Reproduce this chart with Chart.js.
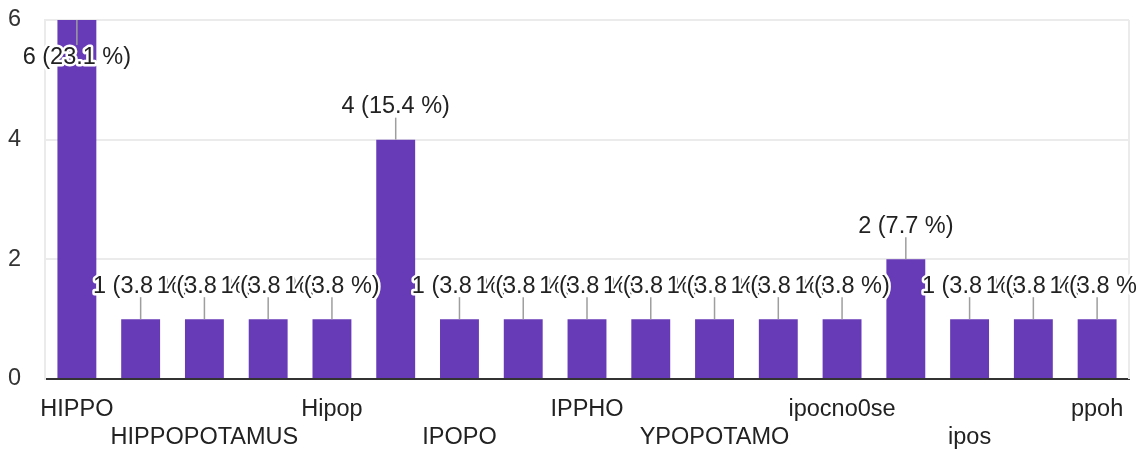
<!DOCTYPE html>
<html>
<head>
  <meta charset="UTF-8">
  <title>Responses</title>
  <script src="https://cdn.jsdelivr.net/npm/chart.js@4"></script>
  <style>
    html, body {
      margin: 0;
      padding: 0;
      background: #fff;
    }
    #wrap {
      width: 1136px;
      height: 452px;
    }
  </style>
</head>
<body>
<div id="wrap"><canvas id="chart"></canvas></div>

<script>
  // answers (odd ones are not labelled in the picture)
  const categories = ['HIPPO', 'HIPPOPO', 'HIPPOPOTAMUS', 'HIPPOS', 'Hipop', 'Hipopotamo',
    'IPOPO', 'IPOPOTAMO', 'IPPHO', 'IPPO', 'YPOPOTAMO', 'hipopotamo', 'ipocno0se',
    'ipopo', 'ipos', 'ippo', 'ppoh'];
  const counts = [6, 1, 1, 1, 1, 4, 1, 1, 1, 1, 1, 1, 1, 2, 1, 1, 1];
  const yTicks = [0, 2, 4, 6];

  const total = counts.reduce((a, b) => a + b, 0);
  const FONT = '"Liberation Sans", Arial, sans-serif';
  const SIZE = 23.5;

  // value labels with leader line and white halo
  const valueLabels = {
    id: 'valueLabels',
    afterDatasetsDraw(chart) {
      const ctx = chart.ctx;
      const area = chart.chartArea;
      const meta = chart.getDatasetMeta(0);
      ctx.save();
      ctx.font = SIZE + 'px ' + FONT;
      ctx.textAlign = 'center';
      ctx.textBaseline = 'middle';
      meta.data.forEach((bar, i) => {
        const v = counts[i];
        const txt = v + ' (' + (v / total * 100).toFixed(1) + ' %)';
        let ly = bar.y - 33;
        let lineEnd = bar.y - 22;
        if (ly - 12 < area.top) {
          ly = bar.y + 38;
          lineEnd = bar.y + 25;
        }
        ctx.strokeStyle = '#9e9e9e';
        ctx.lineWidth = 1.5;
        ctx.beginPath();
        ctx.moveTo(bar.x, bar.y);
        ctx.lineTo(bar.x, lineEnd);
        ctx.stroke();

        ctx.strokeStyle = '#fff';
        ctx.lineWidth = 5;
        ctx.lineJoin = 'round';
        ctx.strokeText(txt, bar.x, ly);
        ctx.fillStyle = '#222';
        ctx.fillText(txt, bar.x, ly);
      });
      ctx.restore();
    }
  };

  // light frame line on the right
  const rightEdge = {
    id: 'rightEdge',
    beforeDatasetsDraw(chart) {
      const ctx = chart.ctx;
      const a = chart.chartArea;
      ctx.save();
      ctx.strokeStyle = '#ebebeb';
      ctx.lineWidth = 2;
      ctx.beginPath();
      ctx.moveTo(a.right, a.top);
      ctx.lineTo(a.right, a.bottom);
      ctx.stroke();
      ctx.restore();
    }
  };

  new Chart(document.getElementById('chart'), {
    type: 'bar',
    data: {
      labels: categories,
      datasets: [{
        data: counts,
        backgroundColor: '#673ab7',
        categoryPercentage: 1,
        barPercentage: 0.61
      }]
    },
    options: {
      responsive: true,
      maintainAspectRatio: false,
      animation: false,
      layout: { padding: { top: 20, right: 7, left: 0, bottom: 0 } },
      plugins: {
        legend: { display: false },
        tooltip: { enabled: false }
      },
      scales: {
        x: {
          grid: { display: false },
          border: { color: '#333', width: 2 },
          afterFit(scale) { scale.height = 73; },
          ticks: {
            autoSkip: false,
            maxRotation: 0,
            minRotation: 0,
            padding: 9,
            color: '#222',
            font: { family: FONT, size: SIZE, lineHeight: 1.17 },
            callback(value, index) {
              const name = categories[index];
              if (index % 4 === 0) return name;
              if (index % 4 === 2) return ['', name];
              return '';
            }
          }
        },
        y: {
          min: 0,
          max: 6,
          afterFit(scale) {
            scale.width = 45;
            // tick padding gets added to top/bottom padding, drop it
            scale.paddingTop = 14;
            scale.paddingBottom = 14;
          },
          afterBuildTicks(scale) {
            scale.ticks = yTicks.map(v => ({ value: v }));
          },
          grid: { color: '#ebebeb', lineWidth: 2, drawTicks: false },
          border: { display: true, color: '#ebebeb', width: 2 },
          ticks: {
            padding: 24,
            color: '#333',
            font: { family: FONT, size: SIZE }
          }
        }
      }
    },
    plugins: [rightEdge, valueLabels]
  });
</script>
</body>
</html>
